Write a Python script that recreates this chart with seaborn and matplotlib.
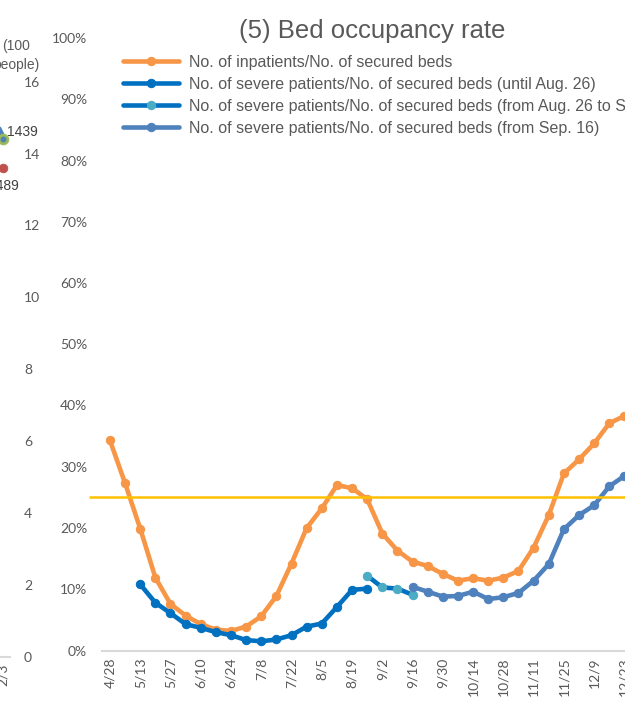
import numpy as np
import pandas as pd
import matplotlib
matplotlib.use("Agg")
import matplotlib.pyplot as plt
import seaborn as sns

# --- data (weekly, % of secured beds) ---
dates = ["4/28", "5/6", "5/13", "5/20", "5/27", "6/3", "6/10", "6/17", "6/24",
         "7/1", "7/8", "7/15", "7/22", "7/29", "8/5", "8/12", "8/19", "8/26",
         "9/2", "9/9", "9/16", "9/23", "9/30", "10/7", "10/14", "10/21", "10/28",
         "11/4", "11/11", "11/18", "11/25", "12/2", "12/9", "12/16", "12/23", "12/30"]

nan = np.nan
inpatients = [34.3, 27.3, 19.9, 11.9, 7.6, 5.7, 4.3, 3.4, 3.2, 3.9, 5.6, 8.9,
              14.2, 20.0, 23.2, 27.0, 26.5, 24.7, 19.1, 16.3, 14.5, 13.8, 12.5,
              11.4, 11.8, 11.4, 11.9, 13.0, 16.8, 22.1, 28.9, 31.2, 33.8, 37.1,
              38.3, 39.5]
severe_until_aug26 = [nan, nan, 10.8, 7.8, 6.1, 4.3, 3.7, 3.0, 2.5, 1.7, 1.5, 1.8,
                      2.5, 3.9, 4.4, 7.1, 9.9, 10.1] + [nan] * 18
severe_aug26_sep16 = [nan] * 17 + [12.2, 10.3, 10.1, 9.1] + [nan] * 15
severe_from_sep16 = [nan] * 20 + [10.4, 9.6, 8.8, 8.9, 9.6, 8.4, 8.7, 9.4, 11.4,
                                  14.1, 19.8, 22.1, 23.7, 26.8, 28.5, 29.5]
threshold = 25

labels = ["No. of inpatients/No. of secured beds",
          "No. of severe patients/No. of secured beds (until Aug. 26)",
          "No. of severe patients/No. of secured beds (from Aug. 26 to Sep. 15)",
          "No. of severe patients/No. of secured beds (from Sep. 16)"]

# neighbouring chart on the left (only its edge is visible)
left_dates = ["1/20", "1/27", "2/3"]
left_ticks = [0, 2, 4, 6, 8, 10, 12, 14, 16]
left_points = [14.6, 14.4, 13.6]
left_point_labels = ["", "1439", "1489"]

sns.set_theme(style="white")
plt.rcParams["font.family"] = ["Liberation Sans", "DejaVu Sans"]
grey_text = "#595959"

df = pd.DataFrame({"x": np.arange(len(dates)),
                   "inp": inpatients,
                   "s1": severe_until_aug26,
                   "s2": severe_aug26_sep16,
                   "s3": severe_from_sep16})

fig = plt.figure(figsize=(6.25, 7.07), dpi=100)

# ==========================================
# main chart: bed occupancy rate
# ==========================================
ax = fig.add_axes([102.4 / 625, 56.5 / 707, 612.8 / 625, 612.5 / 707])

lw, ms = 3.3, 6
sns.lineplot(data=df, x="x", y="inp", ax=ax, color="#F79646", lw=lw,
             marker="o", ms=ms, mec="#F79646", label=labels[0])
sns.lineplot(data=df, x="x", y="s1", ax=ax, color="#0070C0", lw=lw,
             marker="o", ms=ms, mec="#0070C0", label=labels[1])
sns.lineplot(data=df, x="x", y="s2", ax=ax, color="#0070C0", lw=lw,
             marker="o", ms=ms, mfc="#4BACC6", mec="#4BACC6", label=labels[2])
sns.lineplot(data=df, x="x", y="s3", ax=ax, color="#4F81BD", lw=lw,
             marker="o", ms=ms, mec="#4F81BD", label=labels[3])

# 25% reference line (starts a little left of the plot area)
ax.hlines(threshold, -1.4, 45, color="#FFC000", lw=1.8, zorder=10, clip_on=False)

ax.set_xlim(-0.5, 40)
ax.set_ylim(0, 100)
ax.set_yticks(range(0, 101, 10))
ax.set_yticklabels([f"{v}%" for v in range(0, 101, 10)])
ax.set_xticks(df["x"][::2])
ax.set_xticklabels(dates[::2], rotation=90)
ax.tick_params(axis="y", length=0, pad=11, labelsize=10, labelcolor=grey_text)
ax.tick_params(axis="x", length=0, pad=5, labelsize=10, labelcolor=grey_text)
for lab in ax.get_xticklabels() + ax.get_yticklabels():
    lab.set_family(["Lato", "DejaVu Sans"])
ax.set_xlabel("")
ax.set_ylabel("")
for side in ["top", "right", "left"]:
    ax.spines[side].set_visible(False)
ax.spines["bottom"].set_color("#D9D9D9")
ax.spines["bottom"].set_linewidth(1.5)
ax.grid(False)

fig.text(372 / 625, 1 - 31 / 707, "(5) Bed occupancy rate", ha="center",
         va="center", fontsize=18.5, color=grey_text)

leg = ax.legend(loc="upper left", bbox_to_anchor=(123 / 625, 1 - 54.5 / 707),
                bbox_transform=fig.transFigure, frameon=False, fontsize=11.5,
                handlelength=3.5, handletextpad=0.62, labelspacing=0.45,
                borderpad=0, borderaxespad=0)
for t in leg.get_texts():
    t.set_color(grey_text)

# ==========================================
# edge of the neighbouring chart
# ==========================================
ax2 = fig.add_axes([-129.2 / 625, 50.3 / 707, 139.2 / 625, 575 / 707])
ax2.set_xlim(-9.8, 2.6)
ax2.set_ylim(0, 16)
last = len(left_dates) - 1
sns.scatterplot(x=[last - 0.25], y=[left_points[0]], ax=ax2, marker="^",
                s=60, color="#4F81BD", edgecolor="#4F81BD", zorder=3)
sns.scatterplot(x=[last], y=[left_points[1]], ax=ax2, marker="o", s=40,
                color="#4F81BD", edgecolor="#9BBB59", linewidth=2, zorder=4)
sns.scatterplot(x=[last], y=[left_points[2]], ax=ax2, marker="o", s=40,
                color="#C0504D", edgecolor="#C0504D", zorder=3)
ax2.annotate(left_point_labels[1], (last, left_points[1]), xytext=(3, 5),
             textcoords="offset points", fontsize=10, color="#404040",
             va="center", ha="left")
ax2.annotate(left_point_labels[2], (last, left_points[2]), xytext=(0, -13),
             textcoords="offset points", fontsize=10, color="#404040",
             va="center", ha="center")
ax2.yaxis.tick_right()
ax2.set_yticks(left_ticks)
ax2.set_yticklabels([str(v) for v in left_ticks])
ax2.set_xticks(range(len(left_dates)))
ax2.set_xticklabels(left_dates, rotation=90)
ax2.tick_params(axis="y", length=0, pad=10, labelsize=10, labelcolor=grey_text)
ax2.tick_params(axis="x", length=0, pad=5, labelsize=10, labelcolor=grey_text)
for lab in ax2.get_xticklabels() + ax2.get_yticklabels():
    lab.set_family(["Lato", "DejaVu Sans"])
for side in ["top", "right", "left"]:
    ax2.spines[side].set_visible(False)
ax2.spines["bottom"].set_color("#D9D9D9")
ax2.spines["bottom"].set_linewidth(1.5)
ax2.grid(False)
ax2.patch.set_alpha(0)

fig.text(16 / 625, 1 - 55.5 / 707, "(100\npeople)", ha="center", va="center",
         fontsize=10, color=grey_text, linespacing=1.4)

fig.savefig("out.png", dpi=100)
